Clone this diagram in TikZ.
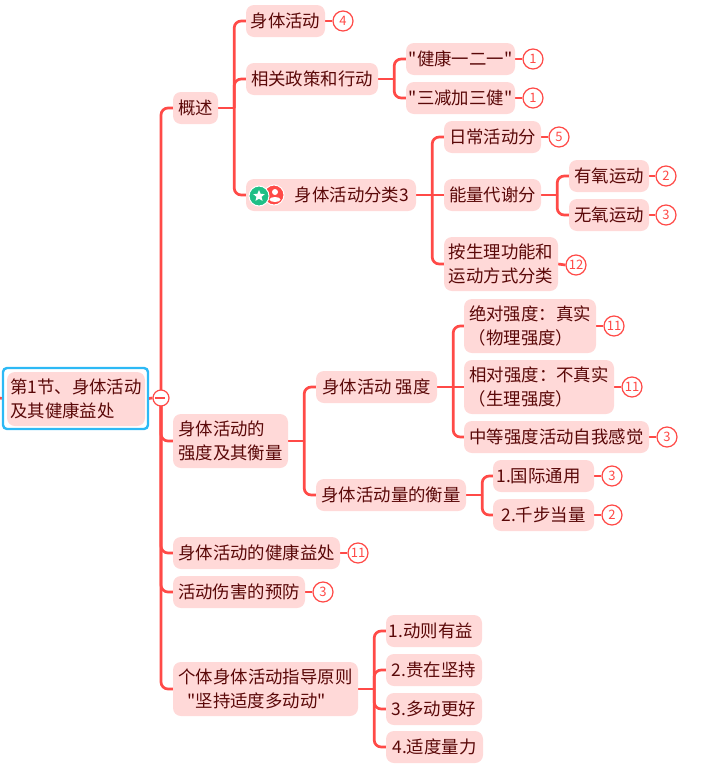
\documentclass[tikz,border=0pt]{standalone}
\usepackage{fontspec}
\setmainfont{Noto Sans CJK SC}[Ligatures=TeXOff]
\usepackage{xcolor}
\usepackage{tikz}
\usetikzlibrary{positioning, backgrounds, shapes.geometric}
\definecolor{accent}{HTML}{FF4A47}
\definecolor{softbg}{HTML}{FFD9D8}
\definecolor{inktext}{HTML}{5A0808}
\definecolor{ringblue}{HTML}{2DB9F5}
\definecolor{stargreen}{HTML}{1FBF86}

\begin{document}
\begin{tikzpicture}[
  x=1pt, y=-1pt,
  topic/.style={rounded corners=8pt, fill=softbg, text=inktext, minimum height=32pt, inner sep=0pt, align=center, font=\fontsize{17.4}{23.5}\selectfont},
  tall/.style={topic, minimum height=54pt},
  badge/.style={circle, draw=accent, line width=1.2pt, fill=white, text=accent, minimum size=20pt, inner sep=0pt, font=\fontsize{13}{13}\selectfont},
  link/.style={draw=accent, line width=2.7pt, rounded corners=7pt}
]
  \useasboundingbox (0,0) rectangle (704,769);

  % centre topic
  \node[draw=ringblue, line width=2.4pt, fill=white, rounded corners=4pt, minimum width=145pt, minimum height=61pt, inner sep=0pt] (rootframe) at (75.5,398.5) {};
  \node[tall, minimum width=138pt, align=left] (root) at (76,399) {第1节、身体活动\\及其健康益处};
  \node[circle, draw=accent, line width=1.2pt, fill=white, minimum size=16pt, inner sep=0pt] (fold) at (161,398) {};
  \coordinate (incoming) at (0,398);

  % first level
  \node[topic, minimum width=45pt] (gaishu) at (195.5,108) {概述};
  \node[tall, minimum width=115pt, align=left] (qiangdu) at (230.5,441) {身体活动的\\强度及其衡量};
  \node[topic, minimum width=167pt] (yichu) at (256.5,553) {身体活动的健康益处};
  \node[topic, minimum width=132pt] (shanghai) at (239,592) {活动伤害的预防};
  \node[tall, minimum width=185pt] (yuanze) at (265.5,689) {个体身体活动指导原则\\"坚持适度多动动"\rule{18pt}{0pt}};

  % overview branch
  \node[topic, minimum width=79pt] (huodong) at (285.5,21) {身体活动};
  \node[topic, minimum width=132pt] (zhengce) at (312,79) {相关政策和行动};
  \node[topic, minimum width=109pt] (yierer) at (460.5,59) {"健康一二一"};
  \node[topic, minimum width=109pt] (sanjian) at (460.5,98) {"三减加三健"};
  \node[topic, minimum width=170pt] (fenlei) at (331,195) {\hspace{42pt}身体活动分类3};
  \node[topic, minimum width=97pt] (richang) at (492.5,137) {日常活动分};
  \node[topic, minimum width=97pt] (nengliang) at (492.5,195) {能量代谢分};
  \node[topic, minimum width=80pt] (youyang) at (609,176) {有氧运动};
  \node[topic, minimum width=80pt] (wuyang) at (609,215) {无氧运动};
  \node[tall, minimum width=114pt] (shengli) at (501,264) {按生理功能和\\运动方式分类};

  % icons on the classification topic
  \node[circle, draw=white, line width=1pt, fill=accent, minimum size=20pt, inner sep=0pt] (personicon) at (274,195) {};
  \node[circle, fill=white, minimum size=6pt, inner sep=0pt] (personhead) at (275,192) {};
  \node[ellipse, fill=white, minimum width=11pt, minimum height=5pt, inner sep=0pt] (personbody) at (275,199.5) {};
  \node[circle, draw=white, line width=1pt, fill=stargreen, minimum size=20pt, inner sep=0pt] (staricon) at (259,196) {};
  \node[star, star points=5, star point ratio=2.2, fill=white, minimum size=12pt, inner sep=0pt] (starmark) at (259,196) {};

  % intensity branch
  \node[topic, minimum width=121pt] (qiangduzi) at (376.5,387) {身体活动 强度};
  \node[tall, minimum width=132pt] (juedui) at (530,326) {绝对强度：真实\\（物理强度）\rule{18pt}{0pt}};
  \node[tall, minimum width=150pt] (xiangdui) at (539,387) {相对强度：不真实\\（生理强度）\rule{36pt}{0pt}};
  \node[topic, minimum width=185pt] (zhongdeng) at (556.5,437) {中等强度活动自我感觉};
  \node[topic, minimum width=150pt] (liang) at (391,495) {身体活动量的衡量};
  \node[topic, minimum width=101pt] (guoji) at (543.5,476) {1.国际通用\hspace{10pt}};
  \node[topic, minimum width=101pt] (qianbu) at (543.5,515) {2.千步当量};

  % principles branch
  \node[topic, minimum width=96pt] (dongze) at (434,631) {1.动则有益\hspace{6pt}};
  \node[topic, minimum width=96pt] (guizai) at (434,670) {2.贵在坚持};
  \node[topic, minimum width=96pt] (duodong) at (434,709) {3.多动更好};
  \node[topic, minimum width=97pt] (shiliang) at (434.5,747) {4.适度量力};

  % counters
  \node[badge] (nhuodong) at (343,21) {4};
  \node[badge] (nyierer) at (533,59) {1};
  \node[badge] (nsanjian) at (533,98) {1};
  \node[badge] (nrichang) at (559,137) {5};
  \node[badge] (nyouyang) at (666,176) {2};
  \node[badge] (nwuyang) at (666,215) {3};
  \node[badge] (nshengli) at (576,265) {12};
  \node[badge] (njuedui) at (614,326) {11};
  \node[badge] (nxiangdui) at (632,387) {11};
  \node[badge] (nzhongdeng) at (667,437) {3};
  \node[badge] (nguoji) at (612,476) {3};
  \node[badge] (nqianbu) at (612,515) {2};
  \node[badge] (nyichu) at (358,553) {11};
  \node[badge] (nshanghai) at (323,592) {3};

  \begin{scope}[on background layer]
    \draw[link] (incoming) -- (rootframe.west);
    \draw[link] (root.east) -- (fold.west);
    \draw[link] (fold.center) |- (gaishu.west);
    \draw[link] (fold.center) |- (qiangdu.west);
    \draw[link] (fold.center) |- (yichu.west);
    \draw[link] (fold.center) |- (shanghai.west);
    \draw[link] (fold.center) |- (yuanze.west);

    \draw[link] (gaishu.east) -- ++(16,0) coordinate (gaishuhub);
    \draw[link] (gaishuhub) |- (huodong.west);
    \draw[link] (gaishuhub) |- (zhengce.west);
    \draw[link] (gaishuhub) |- (fenlei.west);

    \draw[link] (zhengce.east) -- ++(16,0) coordinate (zhengcehub);
    \draw[link] (zhengcehub) |- (yierer.west);
    \draw[link] (zhengcehub) |- (sanjian.west);

    \draw[link] (fenlei.east) -- ++(16,0) coordinate (fenleihub);
    \draw[link] (fenleihub) |- (richang.west);
    \draw[link] (fenleihub) -- (nengliang.west);
    \draw[link] (fenleihub) |- (shengli.west);

    \draw[link] (nengliang.east) -- ++(16,0) coordinate (nenglianghub);
    \draw[link] (nenglianghub) |- (youyang.west);
    \draw[link] (nenglianghub) |- (wuyang.west);

    \draw[link] (qiangdu.east) -- ++(16,0) coordinate (qiangduhub);
    \draw[link] (qiangduhub) |- (qiangduzi.west);
    \draw[link] (qiangduhub) |- (liang.west);

    \draw[link] (qiangduzi.east) -- ++(16,0) coordinate (qiangduzihub);
    \draw[link] (qiangduzihub) |- (juedui.west);
    \draw[link] (qiangduzihub) -- (xiangdui.west);
    \draw[link] (qiangduzihub) |- (zhongdeng.west);

    \draw[link] (liang.east) -- ++(16,0) coordinate (lianghub);
    \draw[link] (lianghub) |- (guoji.west);
    \draw[link] (lianghub) |- (qianbu.west);

    \draw[link] (yuanze.east) -- ++(16,0) coordinate (yuanzehub);
    \draw[link] (yuanzehub) |- (dongze.west);
    \draw[link] (yuanzehub) |- (guizai.west);
    \draw[link] (yuanzehub) |- (duodong.west);
    \draw[link] (yuanzehub) |- (shiliang.west);

    \draw[link] (huodong.east) -- (nhuodong.west);
    \draw[link] (yierer.east) -- (nyierer.west);
    \draw[link] (sanjian.east) -- (nsanjian.west);
    \draw[link] (richang.east) -- (nrichang.west);
    \draw[link] (youyang.east) -- (nyouyang.west);
    \draw[link] (wuyang.east) -- (nwuyang.west);
    \draw[link] (shengli.east) -- (nshengli.west);
    \draw[link] (juedui.east) -- (njuedui.west);
    \draw[link] (xiangdui.east) -- (nxiangdui.west);
    \draw[link] (zhongdeng.east) -- (nzhongdeng.west);
    \draw[link] (guoji.east) -- (nguoji.west);
    \draw[link] (qianbu.east) -- (nqianbu.west);
    \draw[link] (yichu.east) -- (nyichu.west);
    \draw[link] (shanghai.east) -- (nshanghai.west);
  \end{scope}

  % minus sign on the fold
  \draw[accent, line width=1.2pt] (fold.west) ++(3,0) -- ++(10,0);
\end{tikzpicture}
\end{document}
